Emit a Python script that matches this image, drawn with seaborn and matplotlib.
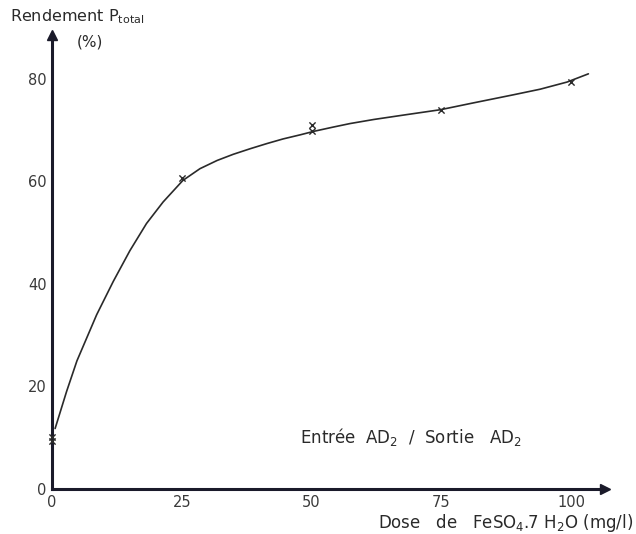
import numpy as np
import pandas as pd
import matplotlib
matplotlib.use("Agg")
import matplotlib.pyplot as plt
import seaborn as sns

# measured points (crosses)
dose_pts = [0, 0, 25, 50, 50, 75, 100]
rendement_pts = [10.2, 9.3, 60.6, 71.1, 69.9, 74.0, 79.5]

# hand-drawn curve
dose_curve = [0.6, 2.8, 4.8, 8.6, 11.8, 15.0, 18.2, 21.4, 25.2, 28.5, 31.8,
              34.9, 38.2, 41.4, 44.5, 47.8, 50.5, 54.1, 57.4, 62.0, 68.0,
              74.8, 81.0, 88.8, 94.0, 99.2, 103.3]
rendement_curve = [11.8, 19.0, 25.0, 34.0, 40.5, 46.5, 51.8, 56.0, 60.2, 62.5, 64.1,
                   65.3, 66.4, 67.4, 68.3, 69.1, 69.8, 70.6, 71.3, 72.1, 73.0,
                   74.0, 75.3, 76.9, 78.0, 79.4, 81.0]

x_ticks = [0, 25, 50, 75, 100]
y_ticks = [0, 20, 40, 60, 80]

sns.set_style("white")
plt.rcParams['font.family'] = ['DejaVu Sans']

fig = plt.figure(figsize=(6.36, 5.34), dpi=100)
ax = fig.add_axes([52 / 636, 45 / 534, 553 / 636, 453.6 / 534])

curve = pd.DataFrame({"dose": dose_curve, "rendement": rendement_curve})
pts = pd.DataFrame({"dose": dose_pts, "rendement": rendement_pts})

sns.lineplot(data=curve, x="dose", y="rendement", sort=False, color="#2a2a2a",
             linewidth=1.2, ax=ax)
sns.scatterplot(data=pts, x="dose", y="rendement", marker="x", color="#2a2a2a",
                s=20, linewidth=1.0, ax=ax, clip_on=False, zorder=5)

ax.set_xlim(0, 106.5)
ax.set_ylim(0, 88.5)
ax.set_xticks(x_ticks)
ax.set_yticks(y_ticks)
ax.tick_params(direction="in", length=5, width=1.3, colors="#2a2a2a",
               labelsize=10.5, labelcolor="#3a3a3a", pad=4)
ax.set_xlabel("")
ax.set_ylabel("")

for side in ["top", "right"]:
    ax.spines[side].set_visible(False)
for side in ["left", "bottom"]:
    ax.spines[side].set_linewidth(2.2)
    ax.spines[side].set_color("#1a1a2a")

# arrow heads on the axes
ax.plot(1, 0, ">", color="#1a1a2a", markersize=7, transform=ax.get_yaxis_transform(),
        clip_on=False)
ax.plot(0, 1, "^", color="#1a1a2a", markersize=7, transform=ax.get_xaxis_transform(),
        clip_on=False)

fig.text(10 / 636, 1 - 17 / 534, r"Rendement P$_{\mathregular{total}}$", fontsize=11.5,
         color="#2a2a2a", va="center", ha="left")
fig.text(90 / 636, 1 - 42 / 534, "(%)", fontsize=11, color="#2a2a2a",
         va="center", ha="center")
fig.text(300 / 636, 1 - 437 / 534,
         r"Entrée  AD$_{\mathregular{2}}$  /  Sortie   AD$_{\mathregular{2}}$",
         fontsize=12, color="#2a2a2a", va="center", ha="left")
fig.text(633 / 636, 1 - 523 / 534,
         r"Dose   de   FeSO$_{\mathregular{4}}$.7 H$_{\mathregular{2}}$O (mg/l)",
         fontsize=12, color="#2a2a2a", va="center", ha="right")

fig.savefig("out.png", dpi=100)
